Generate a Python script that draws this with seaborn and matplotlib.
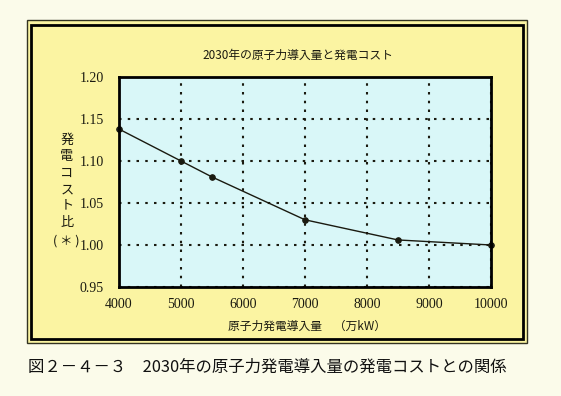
import matplotlib
matplotlib.use("Agg")
import matplotlib.pyplot as plt
from matplotlib.patches import Rectangle
import seaborn as sns
import pandas as pd

# nuclear capacity in 2030 (10^4 kW) vs relative generation cost
capacity = [4000, 5000, 5500, 7000, 8500, 10000]
cost_ratio = [1.138, 1.100, 1.081, 1.030, 1.006, 1.000]
x_ticks = [4000, 5000, 6000, 7000, 8000, 9000, 10000]
y_ticks = [0.95, 1.00, 1.05, 1.10, 1.15, 1.20]
y_tick_labels = ["0.95", "1.00", "1.05", "1.10", "1.15", "1.20"]
ylabel_chars = ["発", "電", "コ", "ス", "ト", "比"]

title = "2030年の原子力導入量と発電コスト"
xlabel = "原子力発電導入量　（万kW）"
caption = "図２－４－３　2030年の原子力発電導入量の発電コストとの関係"

df = pd.DataFrame({"capacity": capacity, "cost": cost_ratio})

sns.set_style("white")
plt.rcParams["font.family"] = ["Noto Sans CJK JP", "DejaVu Sans"]

cream = "#FBFBEA"
yellow = "#FBF4A2"
cyan = "#D9F7F8"
ink = "#1A1A10"

fig = plt.figure(figsize=(5.61, 3.96), dpi=100, facecolor=cream)

# yellow panel with double border
fig.patches.append(Rectangle((27 / 561, 1 - 343 / 396), 500 / 561, 323 / 396,
                             transform=fig.transFigure, facecolor=yellow,
                             edgecolor="#333322", linewidth=1.0, zorder=0))
fig.patches.append(Rectangle((31 / 561, 1 - 339 / 396), 492 / 561, 314 / 396,
                             transform=fig.transFigure, facecolor="none",
                             edgecolor="black", linewidth=2.0, zorder=1))

ax = fig.add_axes([119 / 561, 1 - 287 / 396, 372 / 561, 210 / 396])
ax.set_zorder(3)
ax.set_facecolor(cyan)

sns.lineplot(data=df, x="capacity", y="cost", ax=ax, color=ink, linewidth=1.0,
             marker="o", markersize=4, markeredgecolor=ink, clip_on=False)

ax.set_xlim(4000, 10000)
ax.set_ylim(0.95, 1.20)
ax.set_xticks(x_ticks)
ax.set_yticks(y_ticks)
ax.set_yticklabels(y_tick_labels)
ax.tick_params(axis="x", length=0, labelsize=10, colors=ink, pad=8)
ax.tick_params(axis="y", length=0, labelsize=10, colors=ink, pad=11)
for lbl in ax.get_xticklabels() + ax.get_yticklabels():
    lbl.set_family(["Liberation Serif", "DejaVu Serif"])

ax.grid(True, color=ink, linestyle=(0, (1.2, 3.0)), linewidth=1.5)
for s in ax.spines.values():
    s.set_color("black")
    s.set_linewidth(2.0)

ax.set_xlabel("")
ax.set_ylabel("")

fig.text(298 / 561, 1 - 55 / 396, title, ha="center", va="center",
         fontsize=8.5, color=ink)
fig.text(307 / 561, 1 - 326 / 396, xlabel, ha="center", va="center",
         fontsize=8.5, color=ink)

# stacked vertical y label
for i, ch in enumerate(ylabel_chars):
    fig.text(67 / 561, 1 - (140 + i * 16.5) / 396, ch, ha="center", va="center",
             fontsize=9.5, color=ink)
fig.text(66 / 561, 1 - 241 / 396, "( ＊ )", ha="center", va="center",
         fontsize=9, color=ink)

fig.text(28 / 561, 1 - 367 / 396, caption, ha="left", va="center",
         fontsize=11.8, color="#111111")

fig.savefig("out.png", dpi=100, facecolor=cream)
